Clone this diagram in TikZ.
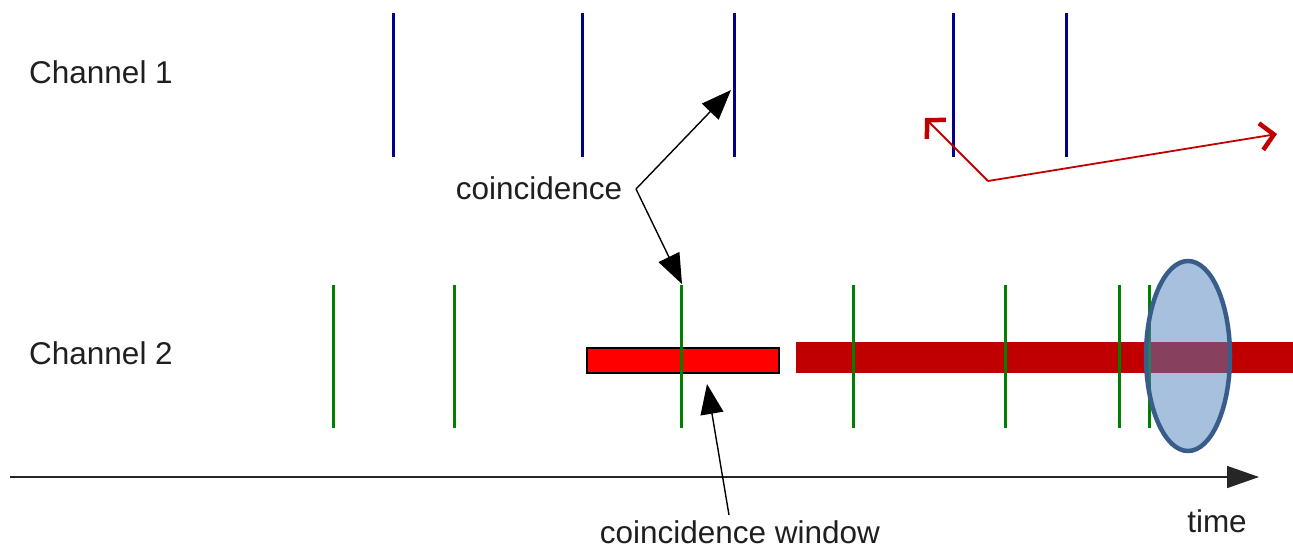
\documentclass[tikz,border=0pt]{standalone}
\usepackage{fontspec}
\setmainfont{Liberation Sans}
\usetikzlibrary{arrows.meta,shapes.geometric}
\definecolor{navy}{RGB}{0,0,140}
\definecolor{pgreen}{RGB}{0,128,0}
\definecolor{dred}{RGB}{192,0,0}
\definecolor{ellfill}{RGB}{79,129,189}
\definecolor{elledge}{RGB}{56,93,138}
\begin{document}
\begin{tikzpicture}[x=1pt,y=-1pt,
  lbl/.style={inner sep=0pt,font=\fontsize{31.5}{36}\selectfont,text=black!88},
  ch1/.style={draw=navy,line width=3pt},
  ch2/.style={draw=pgreen,line width=3pt},
  callout/.style={draw=black,line width=1.4pt,-{Triangle[length=30pt,width=23pt]}},
  redarrow/.style={draw=dred,line width=1.8pt,-{Straight Barb[length=13pt,width=27pt,line width=4.5pt]}}]
\useasboundingbox (0,0) rectangle (1293,550);
% labels
\node[lbl,anchor=west] (c1) at (29,72) {Channel 1};
\node[lbl,anchor=west] (c2) at (29,353) {Channel 2};
\node[lbl] (coin) at (539,188) {coincidence};
\node[lbl] (win) at (740,532) {coincidence window};
\node[lbl] (time) at (1217,521) {time};
% channel 1 pulses
\foreach \x/\n in {393/a,582/b,734/c,953/d,1066/e}{
  \coordinate (t\n) at (\x,13);
  \coordinate (b\n) at (\x,157);
  \draw[ch1] (t\n) -- (b\n);
}
% coincidence window box and dark red bar
\node[draw=black,line width=1.3pt,fill=red,minimum width=192pt,minimum height=25pt,inner sep=0pt] (box) at (683,360.5) {};
\node[fill=dred,minimum width=497pt,minimum height=31pt,inner sep=0pt] (bar) at (1044.5,357.5) {};
% channel 2 pulses
\foreach \x/\n in {333/a,454/b,681/c,853/d,1005/e,1119/f,1149/g}{
  \coordinate (g\n) at (\x,285);
  \coordinate (h\n) at (\x,428);
  \draw[ch2] (g\n) -- (h\n);
}
% ellipse
\node[draw=elledge,line width=4.5pt,fill=ellfill,fill opacity=0.5,ellipse,minimum width=84pt,minimum height=190pt,inner sep=0pt] (ell) at (1188,356) {};
% time axis
\coordinate (ax0) at (10,477);
\coordinate (ax1) at (1259,477);
\draw[line width=1.5pt,black!85,-{Triangle[length=32pt,width=22pt]}] (ax0) -- (ax1);
% callouts
\coordinate (cj) at (636,189);
\coordinate (tipA) at (731,90);
\coordinate (tipB) at (682,284);
\draw[callout] (cj) -- (tipA);
\draw[callout] (cj) -- (tipB);
\coordinate (wtail) at (729,515);
\coordinate (wtip) at (707,384);
\draw[callout] (wtail) -- (wtip);
% red arrows
\coordinate (rj) at (988,181);
\coordinate (rl) at (925,118);
\coordinate (rr) at (1277,134);
\draw[redarrow] (rj) -- (rl);
\draw[redarrow] (rj) -- (rr);
\end{tikzpicture}
\end{document}
